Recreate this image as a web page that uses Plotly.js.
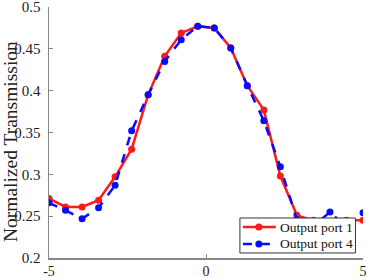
<!DOCTYPE html>
<html>
<head>
<meta charset="utf-8">
<script src="https://cdn.plot.ly/plotly-3.0.1.min.js"></script>
<style>html,body{margin:0;padding:0;background:#fff;}#chart{width:370px;height:278px;}</style>
</head>
<body>
<div id="chart"></div>
<script>
const xVals = [-5, -4.474, -3.947, -3.421, -2.895, -2.368, -1.842, -1.316, -0.789, -0.263,
               0.263, 0.789, 1.316, 1.842, 2.368, 2.895, 3.421, 3.947, 4.474, 5];
const port1 = [0.271, 0.261, 0.261, 0.269, 0.297, 0.330, 0.395, 0.441, 0.469, 0.477,
               0.475, 0.451, 0.406, 0.377, 0.298, 0.251, 0.245, 0.243, 0.245, 0.245];
const port4 = [0.266, 0.257, 0.247, 0.260, 0.287, 0.352, 0.395, 0.435, 0.461, 0.477,
               0.475, 0.451, 0.406, 0.364, 0.309, 0.246, 0.238, 0.255, 0.236, 0.254];
const seriesNames = ['Output port 1', 'Output port 4'];
const xTicks = [-5, 0, 5];
const yTicks = [0.2, 0.25, 0.3, 0.35, 0.4, 0.45, 0.5];
const yTickText = ['0.2', '0.25', '0.3', '0.35', '0.4', '0.45', '0.5'];
const yTitle = 'Normalized Transmission';
const colors = ['#ff1a1a', '#0a0aff'];
const dashes = ['solid', 'dash'];

const serif = '"Liberation Serif", "Times New Roman", serif';
const traces = [
  {x: xVals, y: port1, name: seriesNames[0], mode: 'lines+markers',
   line: {color: colors[0], width: 2.5, dash: dashes[0]}, marker: {color: colors[0], size: 7}},
  {x: xVals, y: port4, name: seriesNames[1], mode: 'lines+markers',
   line: {color: colors[1], width: 2.5, dash: dashes[1]}, marker: {color: colors[1], size: 7}}
];

// Hand-built legend box (MATLAB-style compact legend)
const box = {x0: 0.608, x1: 0.976, y0: 0.020, y1: 0.1594};
const rowY = [0.1235, 0.0558];
const symX0 = 0.6175, symX1 = 0.7222, symMid = 0.6683, textX = 0.7286;
const shapes = [{type: 'rect', xref: 'paper', yref: 'paper', x0: box.x0, x1: box.x1, y0: box.y0, y1: box.y1,
                 fillcolor: '#fff', line: {color: '#333', width: 1}, layer: 'above'}];
const annotations = [{text: yTitle, xref: 'paper', yref: 'paper', x: -0.124, y: 0.462,
                 xanchor: 'center', yanchor: 'middle', textangle: -90, showarrow: false,
                 font: {family: serif, size: 19.5, color: '#222'}}];
seriesNames.forEach((name, i) => {
  shapes.push({type: 'line', xref: 'paper', yref: 'paper', x0: symX0, x1: symX1, y0: rowY[i], y1: rowY[i],
               line: {color: colors[i], width: 2.5, dash: dashes[i]}, layer: 'above'});
  shapes.push({type: 'circle', xref: 'paper', yref: 'paper', xsizemode: 'pixel', ysizemode: 'pixel',
               xanchor: symMid, yanchor: rowY[i], x0: -3.5, x1: 3.5, y0: -3.5, y1: 3.5,
               fillcolor: colors[i], line: {color: colors[i], width: 0}, layer: 'above'});
  annotations.push({text: name, xref: 'paper', yref: 'paper', x: textX, y: rowY[i],
                    xanchor: 'left', yanchor: 'middle', showarrow: false,
                    font: {family: serif, size: 13.5, color: '#111'}});
});

const layout = {
  width: 370, height: 278,
  margin: {l: 48.5, r: 6.5, t: 7, b: 20, pad: 0},
  paper_bgcolor: '#fff', plot_bgcolor: '#fff',
  font: {family: serif, size: 14, color: '#222'},
  showlegend: false,
  xaxis: {range: [-5, 5], tickvals: xTicks, ticktext: xTicks.map(String),
          showgrid: false, zeroline: false, showline: true, linecolor: '#888', linewidth: 1.5,
          ticks: 'inside', ticklen: 4, tickcolor: '#888', mirror: false,
          ticklabelstandoff: 0, ticklabeloverflow: 'allow',
          tickfont: {family: serif, size: 14, color: '#222'}},
  yaxis: {range: [0.2, 0.5], tickvals: yTicks, ticktext: yTickText,
          showgrid: false, zeroline: false, showline: true, linecolor: '#888', linewidth: 1.5,
          ticks: 'inside', ticklen: 4, tickcolor: '#888', mirror: false,
          ticklabelstandoff: 4, ticklabeloverflow: 'allow',
          tickfont: {family: serif, size: 15, color: '#222'}},
  shapes: shapes,
  annotations: annotations
};
Plotly.newPlot('chart', traces, layout, {staticPlot: true, displayModeBar: false});
</script>
</body>
</html>
